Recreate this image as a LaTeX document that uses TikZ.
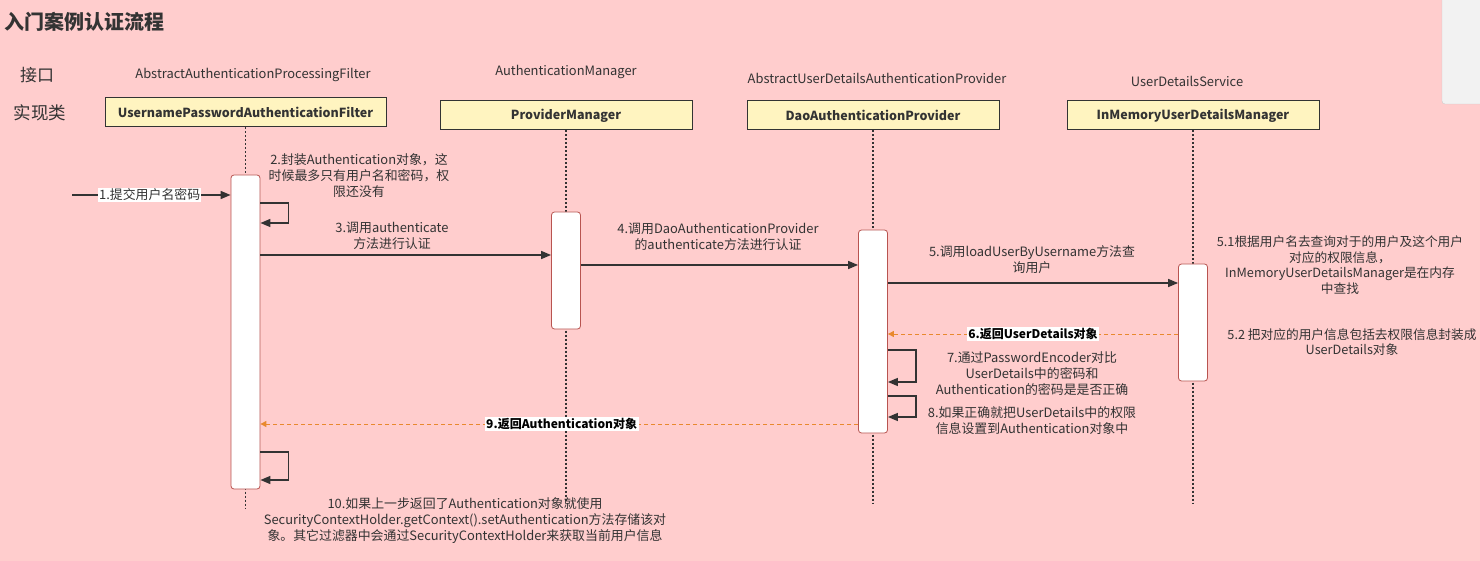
\documentclass[tikz,border=0pt]{standalone}
\usepackage{fontspec}
\setmainfont{Noto Sans CJK SC}
\usetikzlibrary{arrows.meta}
\definecolor{bgpink}{HTML}{FFCDCD}
\definecolor{txt}{HTML}{333333}
\definecolor{boxfill}{HTML}{FFF4C0}
\definecolor{actline}{HTML}{B85450}
\definecolor{retline}{HTML}{E8892E}

\begin{document}
\begin{tikzpicture}[x=1pt,y=-1pt,
  every node/.style={font=\fontsize{12.9}{16}\selectfont,text=txt,align=center,inner sep=1pt},
  classbox/.style={draw=txt,fill=boxfill,line width=1pt,minimum width=252pt,minimum height=29pt,font=\fontsize{12.5}{15}\selectfont\bfseries},
  actbox/.style={draw=actline,fill=white,rounded corners=3pt,minimum width=29pt,line width=0.8pt},
  lifeline/.style={draw=txt,line width=1.4pt,dash pattern=on 2pt off 2pt},
  call/.style={draw=txt,line width=1.4pt,-{Triangle[length=10pt,width=8pt]}},
  reply/.style={draw=retline,line width=1pt,dash pattern=on 4pt off 3pt,-{Triangle[length=6pt,width=6pt]}},
  retlabel/.style={fill=white,font=\fontsize{12}{15}\selectfont\bfseries,text=black,inner sep=1.5pt}]
    \fill[bgpink] (0,0) rectangle (1480,561);
    \useasboundingbox (0,0) rectangle (1480,561);
    \filldraw[fill=black!5,draw=black!20,rounded corners=3pt] (1442,-5) rectangle (1490,104);

    \node[font=\fontsize{20}{24}\selectfont\bfseries] (title) at (85,22) {入门案例认证流程};
    \node[font=\fontsize{17}{20}\selectfont] (iface) at (37,75) {接口};
    \node[font=\fontsize{17.5}{20}\selectfont] (impl) at (40,113) {实现类};

    % interfaces
    \node (i1) at (253,75) {AbstractAuthenticationProcessingFilter};
    \node (i2) at (566,72) {AuthenticationManager};
    \node (i3) at (877,78) {AbstractUserDetailsAuthenticationProvider};
    \node (i4) at (1187,81) {UserDetailsService};

    % classes
    \node[classbox,minimum width=281pt] (c1) at (245.5,112.5) {UsernamePasswordAuthenticationFilter};
    \node[classbox] (c2) at (566,115.5) {ProviderManager};
    \node[classbox] (c3) at (873,115.5) {DaoAuthenticationProvider};
    \node[classbox] (c4) at (1193,115.5) {InMemoryUserDetailsManager};

    % lifelines
    \coordinate (e1) at (245.5,508);
    \coordinate (e2) at (566,502);
    \coordinate (e3) at (873,504);
    \coordinate (e4) at (1193,504);
    \draw[lifeline] (c1) -- (e1);
    \draw[lifeline] (c2) -- (e2);
    \draw[lifeline] (c3) -- (e3);
    \draw[lifeline] (c4) -- (e4);

    \node[actbox,minimum height=314pt] (a1) at (245.5,332) {};
    \node[actbox,minimum height=117pt] (a2) at (566,270.5) {};
    \node[actbox,minimum height=203pt] (a3) at (873,331.5) {};
    \node[actbox,minimum height=117pt] (a4) at (1193,322.5) {};

    % message heights
    \coordinate (start) at (72,195);
    \coordinate (m2a) at (0,203);
    \coordinate (m2b) at (0,223);
    \coordinate (m3) at (0,255);
    \coordinate (m4) at (0,265);
    \coordinate (m5) at (0,283);
    \coordinate (m6) at (0,334);
    \coordinate (m7a) at (0,350);
    \coordinate (m7b) at (0,382);
    \coordinate (m8a) at (0,396);
    \coordinate (m8b) at (0,417);
    \coordinate (m9) at (0,424);
    \coordinate (m10a) at (0,452);
    \coordinate (m10b) at (0,480);

    \draw[call] (start) -- node[fill=white,pos=0.49] {1.提交用户名密码} (a1.west |- start);
    \draw[call] (a1.east |- m2a) -- ++(28,0) |- (a1.east |- m2b);
    \draw[call] (a1.east |- m3) -- (a2.west |- m3);
    \draw[call] (a2.east |- m4) -- (a3.west |- m4);
    \draw[call] (a3.east |- m5) -- (a4.west |- m5);
    \draw[reply] (a4.west |- m6) -- node[retlabel] {6.返回UserDetails对象} (a3.east |- m6);
    \draw[call] (a3.east |- m7a) -- ++(28,0) |- (a3.east |- m7b);
    \draw[call] (a3.east |- m8a) -- ++(28,0) |- (a3.east |- m8b);
    \draw[reply] (a3.west |- m9) -- node[retlabel,pos=0.496] {9.返回Authentication对象} (a1.east |- m9);
    \draw[call] (a1.east |- m10a) -- ++(28,0) |- (a1.east |- m10b);

    % notes
    \node (t2) at (359,176) {2.封装Authentication对象，这\\时候最多只有用户名和密码，权\\限还没有};
    \node (t3) at (392,236) {3.调用authenticate\\方法进行认证};
    \node (t4) at (718,236.5) {4.调用DaoAuthenticationProvider\\的authenticate方法进行认证};
    \node (t5) at (1032,260) {5.调用loadUserByUsername方法查\\询用户};
    \node[font=\fontsize{12.7}{15.7}\selectfont] (t51) at (1340,265) {5.1根据用户名去查询对于的用户及这个用户\\对应的权限信息，\\InMemoryUserDetailsManager是在内存\\中查找};
    \node[font=\fontsize{12.7}{15}\selectfont] (t52) at (1352,342.5) {5.2 把对应的用户信息包括去权限信息封装成\\UserDetails对象};
    \node (t7) at (1032,374) {7.通过PasswordEncoder对比\\UserDetails中的密码和\\Authentication的密码是是否正确};
    \node (t8) at (1032,421) {8.如果正确就把UserDetails中的权限\\信息设置到Authentication对象中};
    \node (t10) at (465,521) {10.如果上一步返回了Authentication对象就使用\\SecurityContextHolder.getContext().setAuthentication方法存储该对\\象。其它过滤器中会通过SecurityContextHolder来获取当前用户信息};
\end{tikzpicture}
\end{document}
